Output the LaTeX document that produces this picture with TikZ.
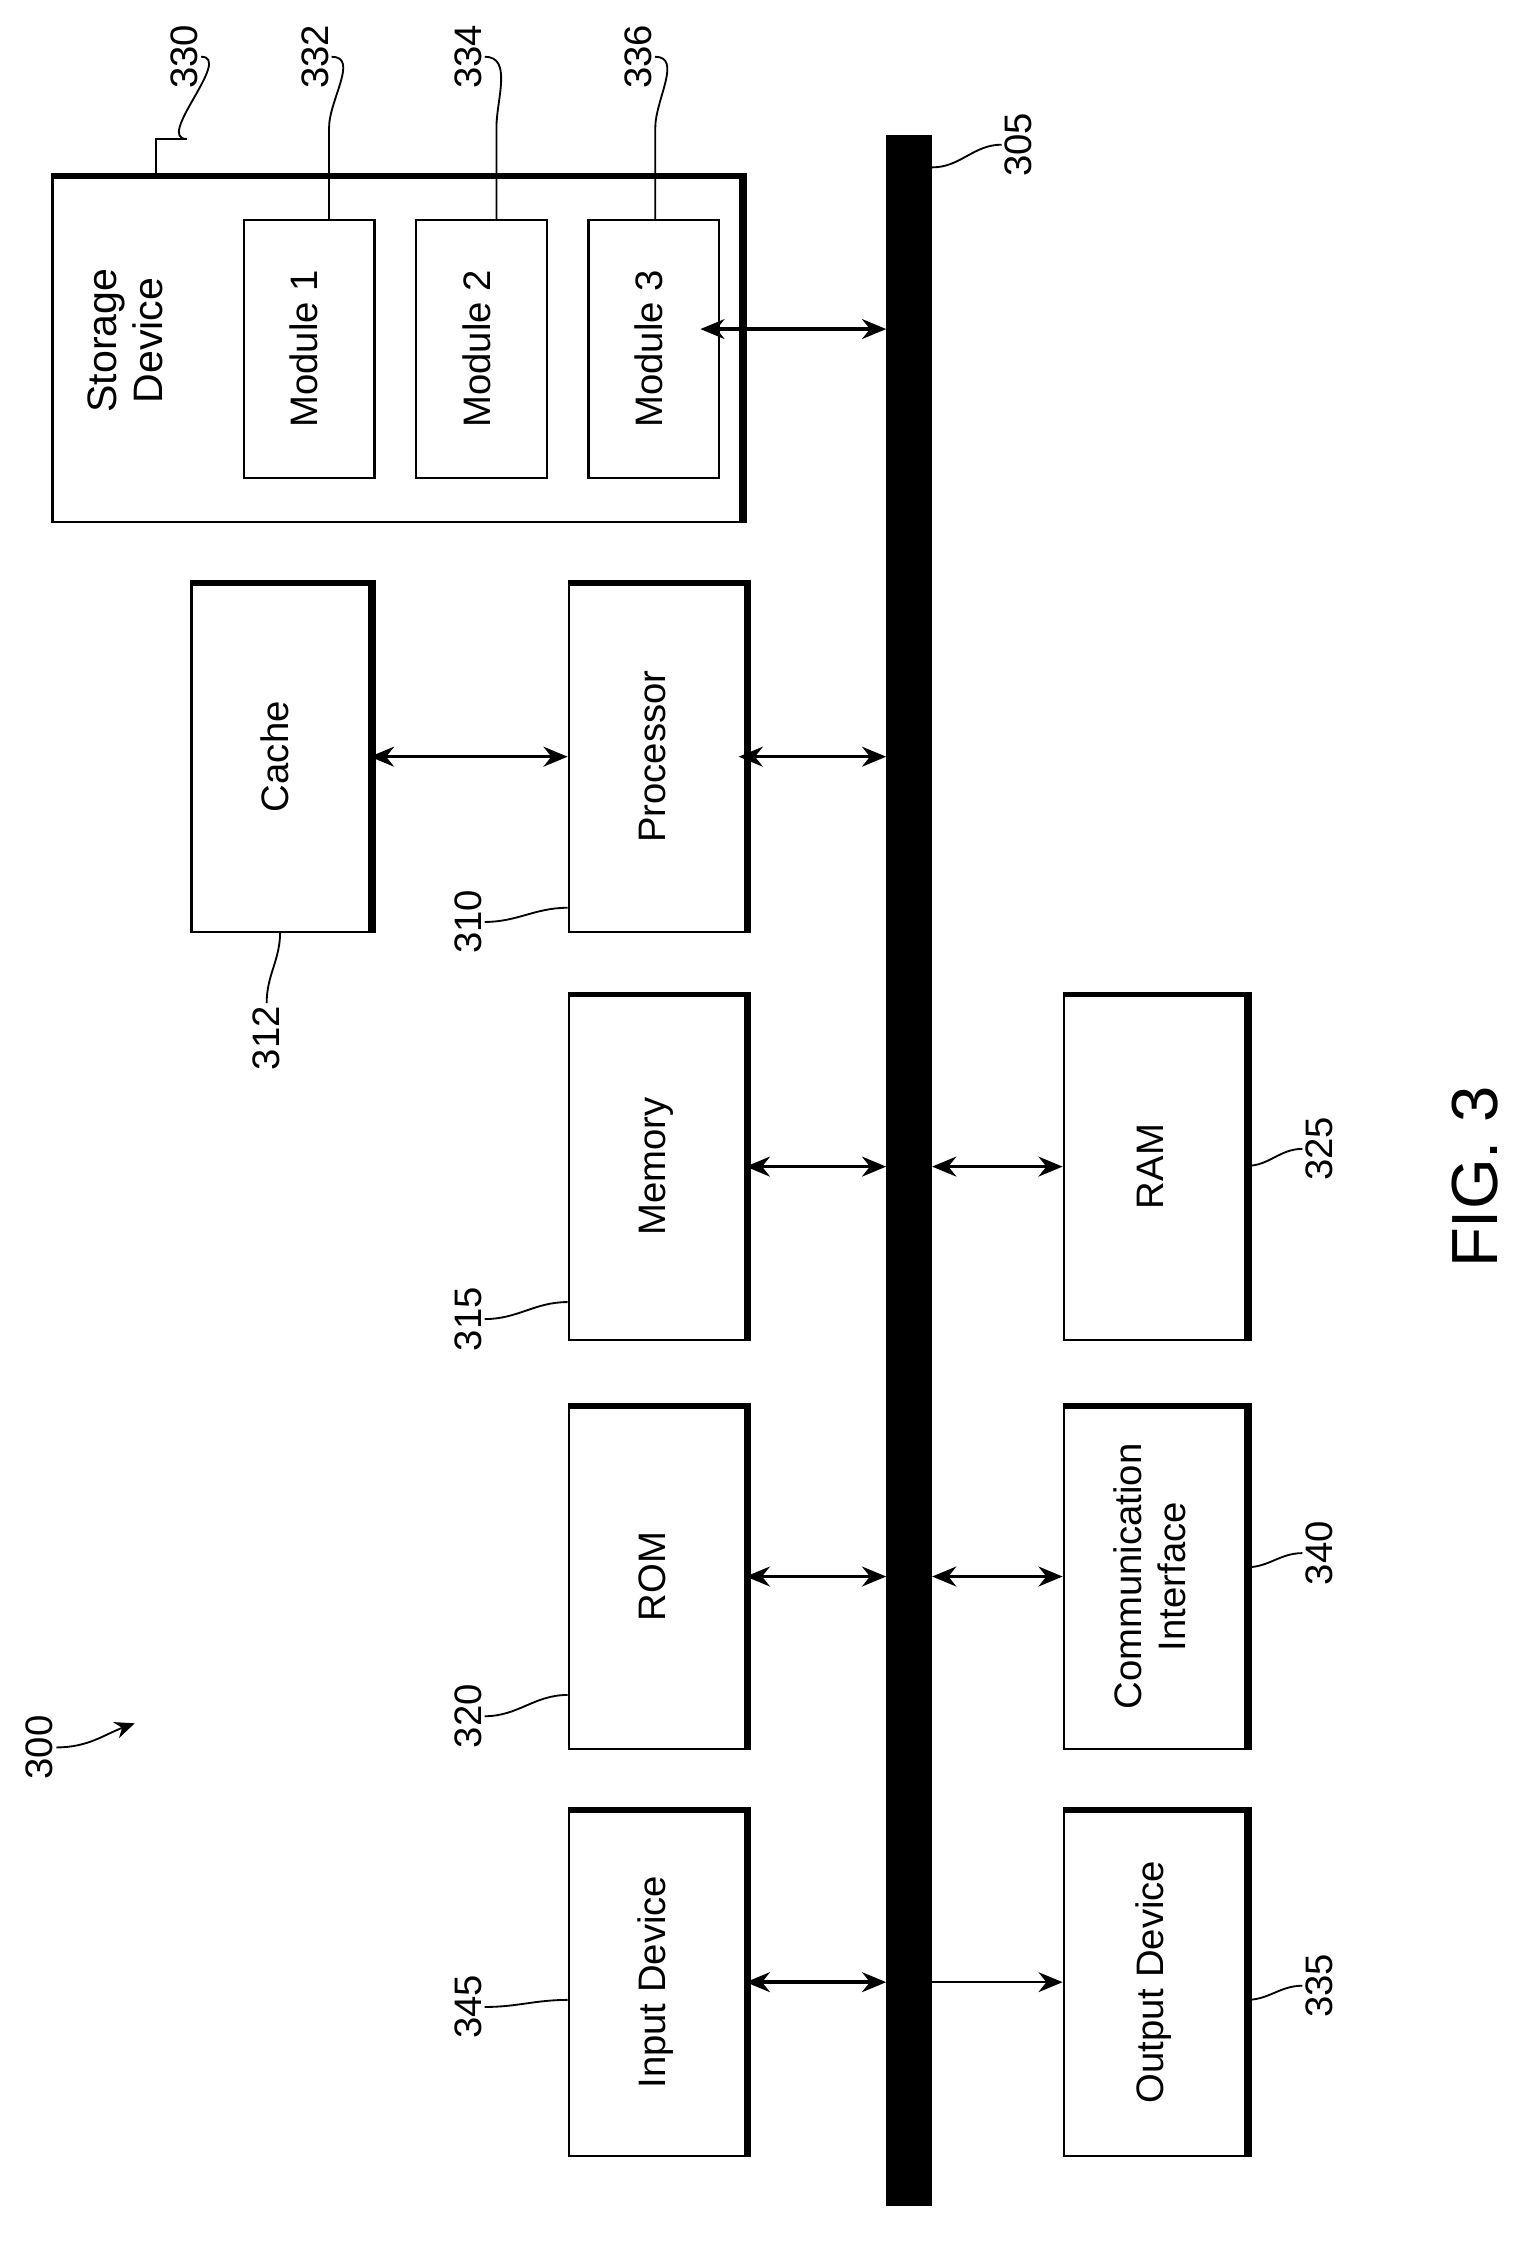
\documentclass[tikz,border=0pt]{standalone}
\usepackage{fontspec}
\setmainfont{Liberation Sans}
\usetikzlibrary{arrows.meta,positioning}
\tikzset{
    >={Stealth[length=17pt,width=14pt]},
    blk/.style={
        rectangle,
        draw, line width=1.6pt,
        inner sep=0pt,
        font={\fontsize{27pt}{31}\selectfont}
    },
    num/.style={inner sep=2pt, font={\fontsize{27pt}{31}\selectfont}},
    bi/.style={<->, line width=2.4pt},
    lead/.style={line width=1.3pt},
}
\newcommand{\vt}[1]{\rotatebox{90}{\begin{tabular}{c}#1\end{tabular}}}
\begin{document}
\begin{tikzpicture}[x=1pt,y=-1pt]
    \useasboundingbox (0,0) rectangle (1080,1580);

    % the boxes
    \node[blk, minimum width=485, minimum height=245] (stor) at (279.5,245.5) {};
    \node[blk, minimum width=92, minimum height=182] (mod1) at (218,246) {\vt{Module 1}};
    \node[blk, minimum width=92, minimum height=182] (mod2) at (339.5,246) {\vt{Module 2}};
    \node[blk, minimum width=92, minimum height=182] (mod3) at (461,246) {\vt{Module 3}};
    \node[num, font={\fontsize{29pt}{32}\selectfont}] (stortext) at (92,240) {\vt{Storage\\Device}};

    \node[blk, minimum width=125, minimum height=247] (cache) at (197.5,533.5) {\vt{Cache}};
    \node[blk, minimum width=124, minimum height=247] (proc) at (463,533.5) {\vt{Processor}};
    \node[blk, minimum width=124, minimum height=245] (mem) at (463,822.5) {\vt{Memory}};
    \node[blk, minimum width=128, minimum height=245] (ram) at (814,822.5) {\vt{RAM}};
    \node[blk, minimum width=124, minimum height=243] (rom) at (463,1111.5) {\vt{ROM}};
    \node[blk, minimum width=128, minimum height=243] (comm) at (814,1111.5) {\vt{Communication\\Interface}};
    \node[blk, minimum width=124, minimum height=245] (inp) at (463,1397.5) {\vt{Input Device}};
    \node[blk, minimum width=128, minimum height=245] (outp) at (814,1397.5) {\vt{Output Device}};

    % heavy top and right edges
    \foreach \b in {stor,cache,proc,mem,ram,rom,comm,inp,outp}
        \draw[line width=4pt] ([yshift=-2pt]\b.north west) -- ([xshift=2pt,yshift=-2pt]\b.north east)
                              -- ([xshift=2pt]\b.south east);

    % the bus
    \node[rectangle, fill=black, minimum width=32, minimum height=1460, inner sep=0pt] (bus) at (641,825) {};

    % links
    \draw[bi] ([xshift=-14pt]mod3.east |- 0,232) -- (bus.west |- 0,232);
    \draw[bi] (cache.east) -- (proc.west);
    \draw[bi] ([xshift=-5pt]proc.east) -- (bus.west |- proc);
    \draw[bi] (mem.east) -- (bus.west |- mem);
    \draw[bi] (bus.east |- ram) -- (ram.west);
    \draw[bi] (rom.east) -- (bus.west |- rom);
    \draw[bi] (bus.east |- comm) -- (comm.west);
    \draw[bi] (inp.east) -- (bus.west |- inp);
    \draw[->, line width=1.6pt] (bus.center |- outp) -- (outp.west);

    % reference numbers
    \node[num] (l330) at (130,40) {\rotatebox{90}{330}};
    \node[num] (l332) at (222,40) {\rotatebox{90}{332}};
    \node[num] (l334) at (330,40) {\rotatebox{90}{334}};
    \node[num] (l336) at (450,40) {\rotatebox{90}{336}};
    \node[num] (l305) at (718,102) {\rotatebox{90}{305}};
    \node[num] (l310) at (330,650) {\rotatebox{90}{310}};
    \node[num] (l312) at (188,732) {\rotatebox{90}{312}};
    \node[num] (l315) at (330,930) {\rotatebox{90}{315}};
    \node[num] (l320) at (330,1210) {\rotatebox{90}{320}};
    \node[num] (l345) at (330,1415) {\rotatebox{90}{345}};
    \node[num] (l325) at (930,810) {\rotatebox{90}{325}};
    \node[num] (l340) at (930,1095) {\rotatebox{90}{340}};
    \node[num] (l335) at (930,1400) {\rotatebox{90}{335}};
    \node[num] (l300) at (28,1232) {\rotatebox{90}{300}};
    \node[num, font={\fontsize{46pt}{50}\selectfont}] (fig) at (1040,830) {\rotatebox{90}{FIG. 3}};

    % leaders
    \coordinate (s305) at (bus.east |- 0,118);
    \coordinate (s312) at (cache.south |- 0,657);
    \coordinate (s310) at (proc.west |- 0,640);
    \coordinate (s315) at (mem.west |- 0,918);
    \coordinate (s320) at (rom.west |- 0,1195);
    \coordinate (s345) at (inp.west |- 0,1410);
    \coordinate (s325) at (ram.east |- 0,822);
    \coordinate (s340) at (comm.east |- 0,1105);
    \coordinate (s335) at (outp.east |- 0,1410);
    \draw[lead] (l330.east) to[out=0,in=180] ([xshift=-10pt]l330.east |- 0,98) -- (110,98) -- (110,123);
    \draw[lead] (l332.east) to[out=0,in=90] (232,90) -- (232,155);
    \draw[lead] (l334.east) to[out=0,in=90] (350,90) -- (350,155);
    \draw[lead] (l336.east) to[out=0,in=90] (462,90) -- (462,155);
    \draw[lead] (l305.west) to[out=180,in=0] (s305);
    \draw[lead] (l312.north) to[out=90,in=-90] (s312);
    \draw[lead] (l310.east) to[out=0,in=180] (s310);
    \draw[lead] (l315.east) to[out=0,in=180] (s315);
    \draw[lead] (l320.east) to[out=0,in=180] (s320);
    \draw[lead] (l345.east) to[out=0,in=180] (s345);
    \draw[lead] (s325) to[out=0,in=180] (l325.west);
    \draw[lead] (s340) to[out=0,in=180] (l340.west);
    \draw[lead] (s335) to[out=0,in=180] (l335.west);
    \coordinate (a300) at (95,1215);
    \draw[lead, -{Stealth[length=14pt,width=12pt]}] (l300.east) to[out=0,in=200] (a300);
\end{tikzpicture}
\end{document}
